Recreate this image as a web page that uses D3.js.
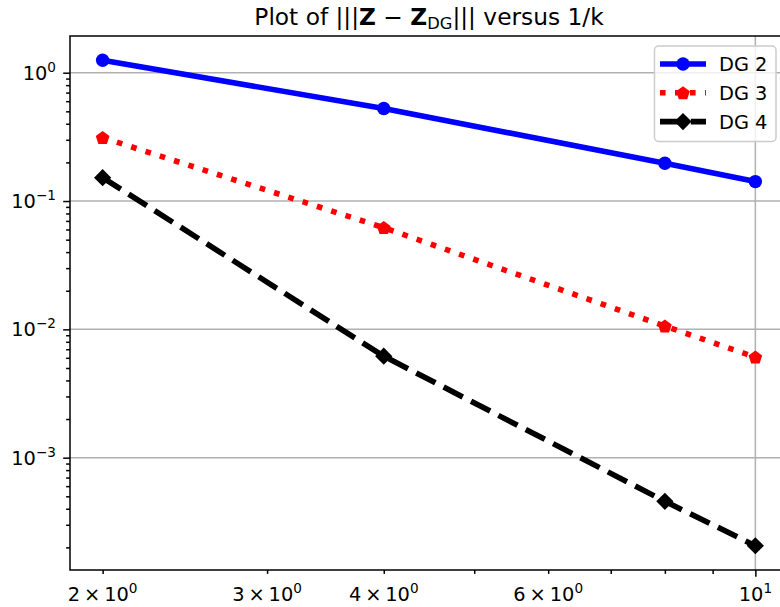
<!DOCTYPE html>
<html>
<head>
<meta charset="utf-8">
<script src="https://cdn.jsdelivr.net/npm/d3@7"></script>
<style>
  html, body { margin: 0; padding: 0; background: #fff; overflow: hidden; }
  svg { display: block; font-family: "DejaVu Sans", sans-serif; }
</style>
</head>
<body>
<div id="chart"></div>
<script>
// data
const kValues = [2, 4, 8, 10];
const dg2 = [1.25, 0.526, 0.197, 0.1417];
const dg3 = [0.312, 0.062, 0.0106, 0.00607];
const dg4 = [0.152, 0.00618, 0.000457, 0.000206];
const seriesNames = ["DG 2", "DG 3", "DG 4"];
const xMajorTicks = [10];
const xMinorTicks = [2, 3, 4, 5, 6, 7, 8, 9];
const xMinorLabels = { 2: "2", 3: "3", 4: "4", 6: "6" };
const yMajorTicks = [1, 0.1, 0.01, 0.001];

const w = 780, h = 607;
const pLeft = 70, pTop = 36, pRight = 788, pBottom = 570;

const svg = d3.select("#chart").append("svg")
  .attr("width", w).attr("height", h);

// log axes with 5% margins like matplotlib
const lx = kValues.map(Math.log10);
const xr = d3.max(lx) - d3.min(lx);
const x = d3.scaleLog()
  .domain([Math.pow(10, d3.min(lx) - 0.05 * xr), Math.pow(10, d3.max(lx) + 0.05 * xr)])
  .range([pLeft, pRight]);

const allY = dg2.concat(dg3, dg4).map(Math.log10);
const yr = d3.max(allY) - d3.min(allY);
const y = d3.scaleLog()
  .domain([Math.pow(10, d3.min(allY) - 0.05 * yr), Math.pow(10, d3.max(allY) + 0.05 * yr)])
  .range([pBottom, pTop]);

// y minor ticks inside range
const yMinorTicks = [];
for (let e = -4; e <= 0; e++) {
  for (let m = 2; m <= 9; m++) {
    const v = m * Math.pow(10, e);
    if (v >= y.domain()[0] && v <= y.domain()[1]) yMinorTicks.push(v);
  }
}

// grid
const grid = svg.append("g");
grid.selectAll(".gy").data(yMajorTicks).enter().append("line")
  .attr("x1", pLeft).attr("x2", pRight)
  .attr("y1", d => y(d)).attr("y2", d => y(d))
  .attr("stroke", "#b0b0b0").attr("stroke-width", 1.5);
grid.selectAll(".gx").data(xMajorTicks).enter().append("line")
  .attr("x1", d => x(d)).attr("x2", d => x(d))
  .attr("y1", pTop).attr("y2", pBottom)
  .attr("stroke", "#b0b0b0").attr("stroke-width", 1.5);

// axes
function styleAxis(g) {
  g.select(".domain").remove();
  g.selectAll(".tick line").attr("stroke", "#000").attr("stroke-width", 1.5);
}
svg.append("g").attr("transform", `translate(0,${pBottom})`)
  .call(d3.axisBottom(x).tickValues(xMajorTicks).tickSize(6.8).tickFormat(""))
  .call(styleAxis);
svg.append("g").attr("transform", `translate(0,${pBottom})`)
  .call(d3.axisBottom(x).tickValues(xMinorTicks).tickSize(3.9).tickFormat(""))
  .call(styleAxis);
svg.append("g").attr("transform", `translate(${pLeft},0)`)
  .call(d3.axisLeft(y).tickValues(yMajorTicks).tickSize(6.8).tickFormat(""))
  .call(styleAxis);
svg.append("g").attr("transform", `translate(${pLeft},0)`)
  .call(d3.axisLeft(y).tickValues(yMinorTicks).tickSize(3.9).tickFormat(""))
  .call(styleAxis);

// tick labels
const fs = 19.4;
function powLabel(t, pre, exp) {
  t.append("tspan").text(pre);
  t.append("tspan").attr("font-size", fs * 0.7).attr("dy", -8).text(exp);
}
yMajorTicks.forEach(v => {
  const e = Math.round(Math.log10(v));
  const t = svg.append("text").attr("x", 56).attr("y", y(v) + 7)
    .attr("text-anchor", "end").attr("font-size", fs);
  powLabel(t, "10", e < 0 ? "\u2212" + (-e) : String(e));
});
Object.keys(xMinorLabels).forEach(k => {
  const t = svg.append("text").attr("x", x(+k)).attr("y", 601)
    .attr("text-anchor", "middle").attr("font-size", fs);
  powLabel(t, xMinorLabels[k] + "\u2009\u00d7\u200910", "0");
});
xMajorTicks.forEach(v => {
  const t = svg.append("text").attr("x", x(v)).attr("y", 601)
    .attr("text-anchor", "middle").attr("font-size", fs);
  powLabel(t, "10", "1");
});

// series
const series = [
  { name: seriesNames[0], vals: dg2, color: "#0000ff", dash: null, marker: "circle" },
  { name: seriesNames[1], vals: dg3, color: "#ff0000", dash: "5.6,9.4", marker: "pentagon" },
  { name: seriesNames[2], vals: dg4, color: "#000000", dash: "21.5,9.3", marker: "diamond" }
];

const line = d3.line().x(d => x(d[0])).y(d => y(d[1]));

function pentagon(r) {
  const pts = d3.range(5).map(i => {
    const a = -Math.PI / 2 + i * 2 * Math.PI / 5;
    return [r * Math.cos(a), r * Math.sin(a)];
  });
  return "M" + pts.map(p => p.join(",")).join("L") + "Z";
}
function drawMarker(g, type, cx, cy, color) {
  if (type === "circle") {
    g.append("circle").attr("cx", cx).attr("cy", cy).attr("r", 6.7).attr("fill", color);
  } else if (type === "pentagon") {
    g.append("path").attr("d", pentagon(7.2))
      .attr("transform", `translate(${cx},${cy + 0.6})`).attr("fill", color);
  } else {
    g.append("path").attr("d", "M0,-8.6L8.6,0L0,8.6L-8.6,0Z")
      .attr("transform", `translate(${cx},${cy})`).attr("fill", color);
  }
}

const plot = svg.append("g");
series.forEach(s => {
  const pts = kValues.map((k, i) => [k, s.vals[i]]);
  plot.append("path").datum(pts).attr("d", line)
    .attr("fill", "none").attr("stroke", s.color).attr("stroke-width", 5.6)
    .attr("stroke-linejoin", "round")
    .attr("stroke-dasharray", s.dash);
  pts.forEach(p => drawMarker(plot, s.marker, x(p[0]), y(p[1]), s.color));
});

// spines
svg.append("rect").attr("x", pLeft).attr("y", pTop)
  .attr("width", pRight - pLeft).attr("height", pBottom - pTop)
  .attr("fill", "none").attr("stroke", "#000").attr("stroke-width", 1.5);

// title
const title = svg.append("text").attr("x", (pLeft + pRight) / 2).attr("y", 25)
  .attr("text-anchor", "middle").attr("font-size", 23.3);
title.append("tspan").text("Plot of |||");
title.append("tspan").attr("font-weight", "bold").text("Z");
title.append("tspan").text(" \u2212 ");
title.append("tspan").attr("font-weight", "bold").text("Z");
title.append("tspan").attr("font-size", 16.3).attr("dy", 4).text("DG");
title.append("tspan").attr("dy", -4).text("|||");
title.append("tspan").text(" versus 1/k");

// legend
const lg = svg.append("g");
lg.append("rect").attr("x", 654.5).attr("y", 46).attr("width", 121.5).attr("height", 95.5)
  .attr("rx", 4).attr("fill", "#fff").attr("fill-opacity", 0.8)
  .attr("stroke", "#cccccc").attr("stroke-width", 1.5);
series.forEach((s, i) => {
  const cy = 64 + i * 28.8;
  lg.append("line").attr("x1", 660).attr("x2", 706).attr("y1", cy).attr("y2", cy)
    .attr("stroke", s.color).attr("stroke-width", 5.6)
    .attr("stroke-dasharray", s.dash);
  drawMarker(lg, s.marker, 683, cy, s.color);
  lg.append("text").attr("x", 719).attr("y", cy + 7)
    .attr("font-size", fs).text(s.name);
});
</script>
</body>
</html>
